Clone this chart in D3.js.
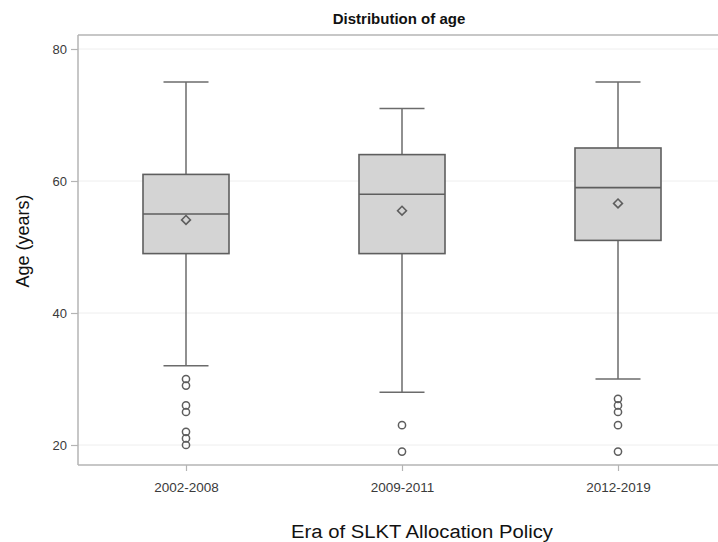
<!DOCTYPE html>
<html>
<head>
<meta charset="utf-8">
<script src="https://cdn.jsdelivr.net/npm/d3@7"></script>
<style>
  html, body { margin: 0; padding: 0; background: #fff; overflow: hidden; }
  svg { display: block; font-family: "Liberation Sans", Arial, sans-serif; }
</style>
</head>
<body>
<svg id="chart" width="718" height="542"></svg>
<script>
// ---- data ----
const categories = ["2002-2008", "2009-2011", "2012-2019"];
const whiskerLow  = [32, 28, 30];
const q1          = [49, 49, 51];
const medians     = [55, 58, 59];
const q3          = [61, 64, 65];
const whiskerHigh = [75, 71, 75];
const means       = [54.1, 55.5, 56.6];
const outliers    = [
  [30, 29, 26, 25, 22, 21, 20],
  [23, 19],
  [27, 26, 25, 23, 19]
];
const yTicks = [20, 40, 60, 80];
const titleText = "Distribution of age";
const xTitle = "Era of SLKT Allocation Policy";
const yTitle = "Age (years)";

// ---- layout ----
const W = 718, H = 542;
const plot = { left: 78, right: 726, top: 35, bottom: 465 };

const svg = d3.select("#chart");

const x = d3.scalePoint().domain(categories).range([plot.left, plot.right]).padding(0.5);
const y = d3.scaleLinear().domain([20, 80]).range([445, 49]);

const boxW = 86, capW = 45;
const stroke = "#6b6b6b";

// gridlines
svg.append("g").selectAll("line").data(yTicks).join("line")
  .attr("x1", plot.left).attr("x2", W)
  .attr("y1", d => y(d)).attr("y2", d => y(d))
  .attr("stroke", "#eeeeee").attr("stroke-width", 1);

// frame (left, top, bottom only; right edge lies outside the picture)
const frame = svg.append("g").attr("stroke", "#b4b4b4").attr("stroke-width", 1.5);
frame.append("line").attr("x1", plot.left).attr("x2", plot.left).attr("y1", plot.top).attr("y2", plot.bottom);
frame.append("line").attr("x1", plot.left).attr("x2", W).attr("y1", plot.top).attr("y2", plot.top);
frame.append("line").attr("x1", plot.left).attr("x2", W).attr("y1", plot.bottom).attr("y2", plot.bottom);

// y axis
const yAxis = d3.axisLeft(y).tickValues(yTicks).tickSize(7).tickPadding(4);
const gy = svg.append("g").attr("transform", `translate(${plot.left},0)`).call(yAxis);
gy.select(".domain").remove();
gy.selectAll(".tick line").attr("stroke", "#b4b4b4").attr("stroke-width", 1.2);
gy.selectAll(".tick text").attr("fill", "#3a3a3a").style("font-size", "13px");

// x axis
const xAxis = d3.axisBottom(x).tickSize(6).tickPadding(11);
const gx = svg.append("g").attr("transform", `translate(0,${plot.bottom})`).call(xAxis);
gx.select(".domain").remove();
gx.selectAll(".tick line").attr("stroke", "#b4b4b4").attr("stroke-width", 1.2);
gx.selectAll(".tick text").attr("fill", "#3a3a3a").style("font-size", "13.5px");

// boxes
const data = categories.map((c, i) => ({
  c, lo: whiskerLow[i], q1: q1[i], med: medians[i], q3: q3[i], hi: whiskerHigh[i], mean: means[i], out: outliers[i]
}));

const g = svg.append("g").selectAll("g").data(data).join("g");

// whiskers
g.append("line")
  .attr("x1", d => x(d.c)).attr("x2", d => x(d.c))
  .attr("y1", d => y(d.hi)).attr("y2", d => y(d.q3))
  .attr("stroke", stroke).attr("stroke-width", 1.5);
g.append("line")
  .attr("x1", d => x(d.c)).attr("x2", d => x(d.c))
  .attr("y1", d => y(d.q1)).attr("y2", d => y(d.lo))
  .attr("stroke", stroke).attr("stroke-width", 1.5);
// caps
g.append("line")
  .attr("x1", d => x(d.c) - capW / 2).attr("x2", d => x(d.c) + capW / 2)
  .attr("y1", d => y(d.hi)).attr("y2", d => y(d.hi))
  .attr("stroke", stroke).attr("stroke-width", 1.5);
g.append("line")
  .attr("x1", d => x(d.c) - capW / 2).attr("x2", d => x(d.c) + capW / 2)
  .attr("y1", d => y(d.lo)).attr("y2", d => y(d.lo))
  .attr("stroke", stroke).attr("stroke-width", 1.5);
// box
g.append("rect")
  .attr("x", d => x(d.c) - boxW / 2).attr("width", boxW)
  .attr("y", d => y(d.q3)).attr("height", d => y(d.q1) - y(d.q3))
  .attr("fill", "#d4d4d4").attr("stroke", "#5e5e5e").attr("stroke-width", 1.6);
// median
g.append("line")
  .attr("x1", d => x(d.c) - boxW / 2).attr("x2", d => x(d.c) + boxW / 2)
  .attr("y1", d => y(d.med)).attr("y2", d => y(d.med))
  .attr("stroke", "#5e5e5e").attr("stroke-width", 1.6);
// mean diamond
g.append("path")
  .attr("d", d3.symbol(d3.symbolDiamond2, 50))
  .attr("transform", d => `translate(${x(d.c)},${y(d.mean)})`)
  .attr("fill", "none").attr("stroke", "#5e5e5e").attr("stroke-width", 1.6);
// outliers
g.each(function(d) {
  d3.select(this).selectAll("circle").data(d.out).join("circle")
    .attr("cx", x(d.c)).attr("cy", v => y(v)).attr("r", 3.6)
    .attr("fill", "none").attr("stroke", "#5e5e5e").attr("stroke-width", 1.5);
});

// title
svg.append("text")
  .attr("x", 399).attr("y", 24)
  .attr("text-anchor", "middle")
  .style("font-size", "15px").style("font-weight", "bold").attr("fill", "#111")
  .text(titleText);

// axis titles
svg.append("text")
  .attr("x", 422).attr("y", 538)
  .attr("text-anchor", "middle")
  .attr("textLength", 262).attr("lengthAdjust", "spacingAndGlyphs")
  .style("font-size", "18px").attr("fill", "#111")
  .text(xTitle);

svg.append("text")
  .attr("transform", `translate(29,${241}) rotate(-90)`)
  .attr("text-anchor", "middle")
  .style("font-size", "18px").attr("fill", "#111")
  .text(yTitle);
</script>
</body>
</html>
